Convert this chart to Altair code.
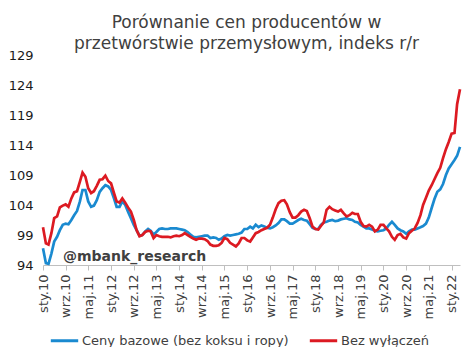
import altair as alt
import pandas as pd

months = pd.date_range("2010-01-01", periods=148, freq="MS").strftime("%Y-%m-%d").tolist()

core = [96.8, 94.3, 94.2, 95.9, 97.9, 98.7, 99.8, 100.7, 100.9, 100.8, 101.5, 102.3,
        103.0, 104.6, 106.5, 106.5, 104.6, 103.7, 103.9, 104.8, 106.2, 106.8, 107.3, 107.1,
        106.5, 105.1, 103.7, 103.7, 104.6, 104.0, 102.9, 101.8, 100.7, 99.8, 98.9, 99.0,
        99.6, 100.0, 99.7, 99.1, 99.5, 100.0, 100.1, 100.0, 100.0, 100.1, 100.1, 100.1,
        100.0, 99.9, 99.8, 99.5, 99.1, 98.7, 98.6, 98.7, 98.8, 98.9, 98.9, 98.5,
        98.6, 98.5, 98.2, 98.4, 98.8, 99.0, 98.9, 99.0, 99.1, 99.2, 99.4, 100.0,
        100.0, 100.4, 100.1, 100.7, 100.3, 100.6, 100.4, 100.2, 100.1, 100.3, 100.6, 101.0,
        101.6, 101.6, 101.3, 100.9, 100.9, 101.2, 101.5, 101.7, 101.5, 101.4, 100.8, 100.2,
        100.0, 100.0, 100.7, 101.1, 101.2, 101.4, 101.5, 101.3, 101.4, 101.6, 101.7, 101.8,
        101.6, 101.5, 101.2, 101.1, 100.7, 100.4, 100.1, 100.1, 99.9, 99.7, 99.6, 99.7,
        99.8, 100.1, 100.7, 101.2, 100.7, 100.1, 99.8, 99.6, 99.2, 99.6, 99.9, 99.9,
        100.1, 100.3, 100.5, 100.9, 101.9, 103.5, 105.0, 106.2, 106.6, 107.5, 109.0, 110.1,
        110.8, 111.5, 112.2, 113.7]

total = [100.3, 97.6, 97.4, 99.3, 101.8, 102.1, 103.6, 103.9, 104.1, 103.7, 105.1, 106.1,
         106.3, 107.9, 109.4, 108.7, 106.8, 106.0, 106.3, 107.2, 108.2, 108.3, 108.9, 108.0,
         107.6, 106.0, 104.6, 104.4, 105.1, 104.4, 103.6, 102.9, 101.5, 99.8, 98.8, 99.0,
         99.5, 99.7, 99.6, 98.5, 99.0, 98.8, 98.7, 98.7, 98.7, 98.6, 98.8, 98.9,
         98.8, 99.0, 99.3, 99.0, 98.7, 98.4, 98.2, 98.4, 98.4, 98.3, 98.0, 97.4,
         97.2, 97.2, 97.3, 97.7, 98.5, 98.3, 97.7, 97.4, 97.1, 97.6, 98.5, 98.5,
         98.1, 97.9, 98.6, 99.3, 99.5, 99.8, 100.0, 100.2, 100.7, 101.9, 103.3, 104.3,
         104.7, 104.8, 104.1, 102.8, 101.9, 101.9, 102.3, 102.9, 103.2, 103.0, 101.8, 100.4,
         100.0, 99.9, 100.5, 101.1, 103.2, 103.7, 103.3, 103.1, 102.9, 103.2, 102.6, 102.1,
         102.3, 102.7, 102.5, 102.5, 101.2, 100.5, 100.4, 100.7, 100.4, 99.6, 99.9, 100.7,
         100.7, 100.1, 99.6, 98.7, 98.2, 99.0, 99.2, 98.6, 98.4, 99.3, 99.7, 100.1,
         101.0, 102.3, 104.0, 105.2, 106.4, 107.3, 108.3, 109.3, 110.2, 111.8, 113.3, 114.5,
         115.9, 116.0, 120.8, 123.3]

series_names = ["Ceny bazowe (bez koksu i ropy)", "Bez wyłączeń"]
series_colors = ["#1a8ad0", "#dc1a22"]
y_ticks = [94, 99, 104, 109, 114, 119, 124, 129]
x_tick_dates = months[::8]
pl_months = ["sty", "lut", "mar", "kwi", "maj", "cze", "lip", "sie", "wrz", "paź", "lis", "gru"]

df = pd.concat([
    pd.DataFrame({"data": months, "wartosc": core, "seria": series_names[0], "o": 0}),
    pd.DataFrame({"data": months, "wartosc": total, "seria": series_names[1], "o": 1}),
])

FONT = "DejaVu Sans"
label_expr = "[" + ",".join("'%s'" % m for m in pl_months) + "][utcmonth(datum.value)] + '.' + utcFormat(datum.value, '%y')"

tick_vals = [alt.DateTime(year=int(d[:4]), month=int(d[5:7]), date=1, utc=True) for d in x_tick_dates]

lines = alt.Chart(df).mark_line(strokeWidth=2.7, interpolate="linear").encode(
    x=alt.X("data:T", scale=alt.Scale(type="utc", domain=[alt.DateTime(year=2010, month=1, date=1, utc=True),
                                                          alt.DateTime(year=2022, month=4, date=1, utc=True)]),
            axis=alt.Axis(values=tick_vals, labelExpr=label_expr, labelAngle=270, title=None,
                          grid=False, domainColor="#bfbfbf", tickColor="#bfbfbf", tickSize=5,
                          labelFontSize=13, labelColor="#404040", labelFont=FONT, labelPadding=4)),
    y=alt.Y("wartosc:Q", scale=alt.Scale(domain=[94, 129], nice=False, zero=False),
            axis=alt.Axis(values=y_ticks, title=None, grid=False, domain=False, ticks=False,
                          labelFontSize=13, labelColor="#1a1a1a", labelFont=FONT, labelPadding=10)),
    color=alt.Color("seria:N", scale=alt.Scale(domain=series_names, range=series_colors),
                    legend=alt.Legend(title=None, orient="none", legendX=6, legendY=270,
                                      direction="horizontal", symbolType="stroke",
                                      symbolSize=750, symbolStrokeWidth=3, labelFontSize=13,
                                      labelFont=FONT, labelColor="#404040", columnPadding=14,
                                      labelOffset=2, padding=0, labelLimit=400)),
    order=alt.Order("o:Q"),
)

watermark = alt.Chart(pd.DataFrame({"t": ["@mbank_research"]})).mark_text(
    align="left", baseline="alphabetic", fontSize=14, fontWeight="bold", font=FONT, color="#404040"
).encode(x=alt.value(20), y=alt.value(206), text="t:N")

chart = alt.layer(lines, watermark).properties(
    width=417, height=210,
    title=alt.TitleParams(["Porównanie cen producentów w", "przetwórstwie przemysłowym, indeks r/r"],
                          fontSize=17, font=FONT, fontWeight="normal", color="#404040",
                          anchor="middle", offset=6, lineHeight=21, dx=-5, dy=10),
    autosize=alt.AutoSizeParams(type="none"),
    padding={"left": 35, "top": 47, "right": 6, "bottom": 82},
).configure_view(stroke=None)

chart.save("out.html", embed_options={"renderer": "svg", "actions": False})
